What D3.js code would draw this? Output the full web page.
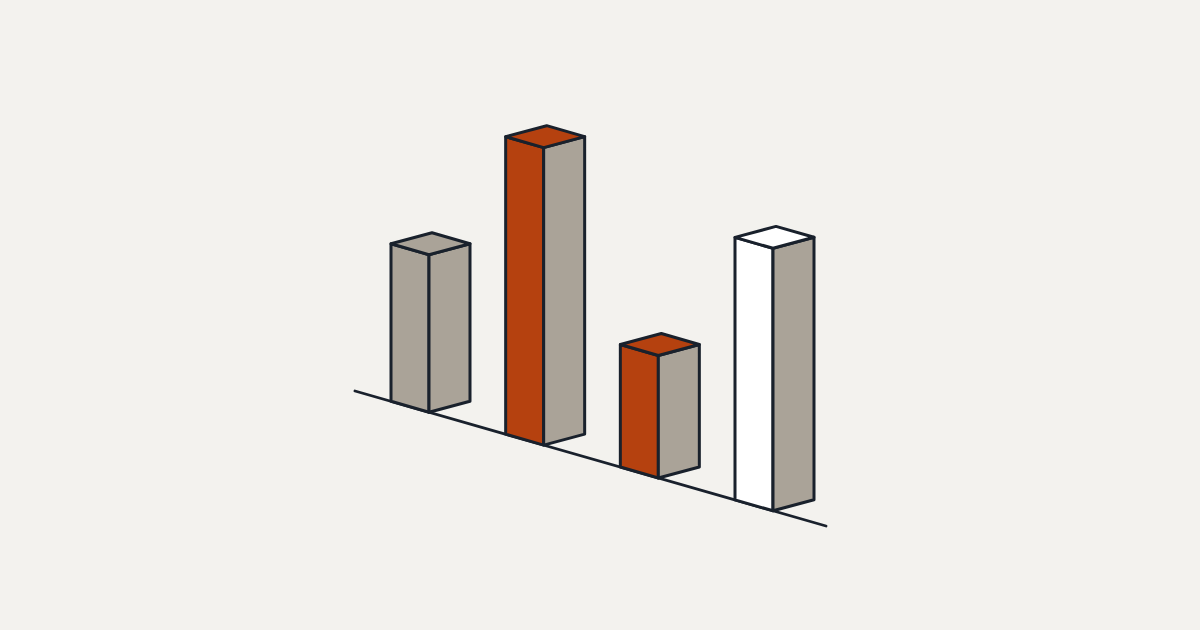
<!DOCTYPE html>
<html>
<head>
<meta charset="utf-8">
<script src="https://cdn.jsdelivr.net/npm/d3@7"></script>
<style>
  html, body { margin: 0; padding: 0; background: #f3f2ee; }
  svg { display: block; }
</style>
</head>
<body>
<svg id="chart" width="1200" height="630"></svg>
<script>
(() => {
  const categories = ["A", "B", "C", "D"];
  const values = [4.5, 8.5, 3.5, 7.5];
  const frontFills = ["gray", "orange", "orange", "white"];

  const PALETTE = { gray: "#aaa398", orange: "#b5410f", white: "#ffffff" };
  const SIDE_FILL = "#aaa398";
  const STROKE_COLOR = "#19212c";
  const BG = "#f3f2ee";

  // isometric face offsets (front face runs along the baseline, side goes back)
  const FRONT = { dx: -38, dy: -10.9 };
  const SIDE = { dx: 41, dy: -11 };

  const svg = d3.select("#chart");
  svg.append("rect").attr("width", 1200).attr("height", 630).attr("fill", BG);

  const x = d3.scalePoint().domain(categories).range([429, 773]);
  const baseY = d3.scaleLinear().domain([355, 826]).range([391, 526]);
  const h = d3.scaleLinear().domain([0, 10]).range([0, 350]);

  svg.append("line")
    .attr("x1", 355).attr("y1", baseY(355))
    .attr("x2", 826).attr("y2", baseY(826))
    .attr("stroke", STROKE_COLOR)
    .attr("stroke-width", 2.8)
    .attr("stroke-linecap", "round");

  const bars = categories.map((c, i) => {
    const fx = x(c);
    const fy = baseY(fx);
    return { cat: c, value: values[i], fill: PALETTE[frontFills[i]], fx, fy, top: fy - h(values[i]) };
  });

  const pts = (arr) => arr.map((p) => p.join(",")).join(" ");

  function frontFace(b) {
    return pts([
      [b.fx, b.fy], [b.fx + FRONT.dx, b.fy + FRONT.dy],
      [b.fx + FRONT.dx, b.top + FRONT.dy], [b.fx, b.top],
    ]);
  }

  function sideFace(b) {
    return pts([
      [b.fx, b.fy], [b.fx + SIDE.dx, b.fy + SIDE.dy],
      [b.fx + SIDE.dx, b.top + SIDE.dy], [b.fx, b.top],
    ]);
  }

  function topFace(b) {
    return pts([
      [b.fx, b.top], [b.fx + FRONT.dx, b.top + FRONT.dy],
      [b.fx + FRONT.dx + SIDE.dx, b.top + FRONT.dy + SIDE.dy],
      [b.fx + SIDE.dx, b.top + SIDE.dy],
    ]);
  }

  const g = svg.selectAll("g.bar")
    .data(bars)
    .enter()
    .append("g")
    .attr("class", "bar");

  const faces = [
    { cls: "front", points: frontFace, fill: (b) => b.fill },
    { cls: "side", points: sideFace, fill: () => SIDE_FILL },
    { cls: "top", points: topFace, fill: (b) => b.fill },
  ];

  faces.forEach((f) => {
    g.append("polygon")
      .attr("class", f.cls)
      .attr("points", f.points)
      .attr("fill", f.fill)
      .attr("stroke", STROKE_COLOR)
      .attr("stroke-width", 3)
      .attr("stroke-linejoin", "round");
  });
})();
</script>
</body>
</html>
